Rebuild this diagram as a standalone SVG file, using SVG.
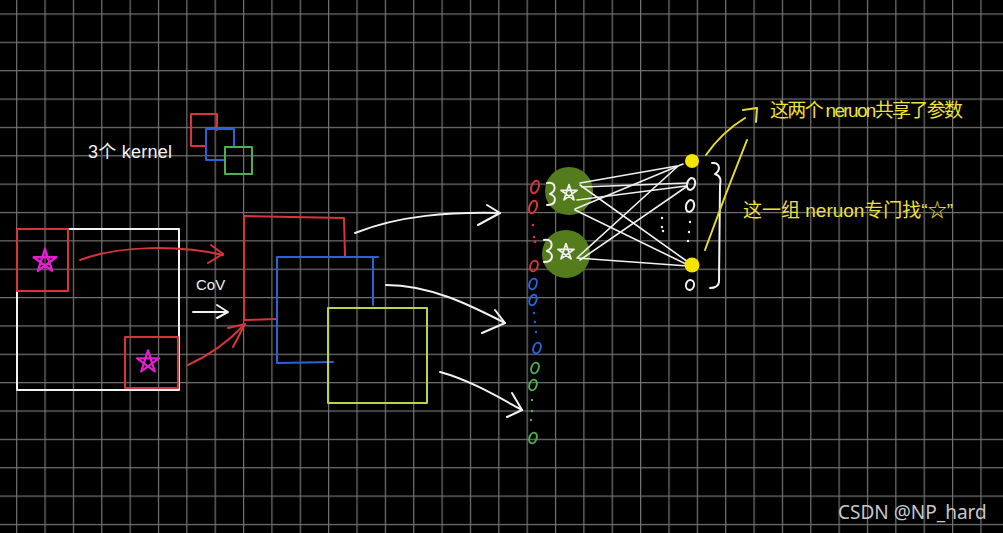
<svg xmlns="http://www.w3.org/2000/svg" xmlns:xlink="http://www.w3.org/1999/xlink" width="1003" height="533" viewBox="0 0 1003 533">
<style>
.hand{fill:none;stroke-linecap:round;stroke-linejoin:round;stroke-width:2}
.w{stroke:#f2f2f2}
.r{stroke:#d8343a}
.b{stroke:#2a62dc}
.g{stroke:#4caf50}
.yg{stroke:#b8d646}
.y{stroke:#e6dc2e}
.m{stroke:#e020cc}
.link{stroke:#f0f0f0;stroke-width:1.6;fill:none;stroke-linecap:round}
.dot{stroke:none}
.txt{font-family:"Liberation Sans","Noto Sans CJK SC",sans-serif}
.ytxt{font-family:"Liberation Sans","Noto Sans CJK SC",sans-serif;fill:#eee236;font-size:19px}
</style>
<defs>
<pattern id="grid" x="16.1" y="13.4" width="28.36" height="28.36" patternUnits="userSpaceOnUse">
<rect x="0" y="0" width="1.2" height="28.36" fill="#747474"/>
<rect x="0" y="0" width="28.36" height="1.2" fill="#747474"/>
</pattern>
<path id="star" d="M0,-10 L5.9,8.1 L-9.5,-3.1 L9.5,-3.1 L-5.9,8.1 Z"/>
<path id="brace" d="M-4,-11 C5,-13 6,-3 -1,0 C6,2 6,11 -4,11"/>
</defs>
<rect width="1003" height="533" fill="#000"/>
<rect width="1003" height="533" fill="url(#grid)"/>

<g id="kernels">
<text class="txt" x="88" y="158" font-size="18" fill="#f2f2f2" textLength="84">3个 kernel</text>
<path class="hand r" d="M217,130 L217,114 L191,114 L191,146 L206,146"/>
<path class="hand b" d="M234,147 L234,129 L206,129 L206,160 L225,160"/>
<rect class="hand g" x="225" y="147" width="27" height="27"/>
</g>

<g id="input-image">
<rect class="hand w" x="17" y="229" width="162" height="161"/>
<rect class="hand r" x="17" y="229" width="51" height="62"/>
<rect class="hand r" x="125" y="337" width="53" height="51"/>
<use xlink:href="#star" class="hand m" transform="translate(45,261) scale(1.2)"/>
<use xlink:href="#star" class="hand m" transform="translate(148,362) scale(1.15)"/>
</g>

<g id="label-cov">
<text class="txt" x="196" y="290" font-size="15" fill="#f2f2f2">CoV</text>
</g>

<g id="feature-maps">
<path class="hand r" d="M345,257 L344,218 L244,216 L244,320 L277,319"/>
<path class="hand b" d="M373,305 L373,257 L277,257 L277,363 L333,362"/>
<path class="hand b" d="M373,257 L378,257"/>
<rect class="hand yg" x="328" y="308" width="99" height="95"/>
</g>

<g id="connectors">
<path class="hand r" d="M80,260 C120,245 180,245 223,255"/>
<path class="hand r" d="M211,245 L223,254 L208,263"/>
<path class="hand r" d="M188,365 C210,355 230,340 245,324"/>
<path class="hand r" d="M228,328 L245,324 L233,347"/>
<path class="hand w" d="M193,312 H227"/>
<path class="hand w" d="M217,305 L228,312 L217,318"/>
<path class="hand w" d="M355,233 C400,215 450,212 500,213"/>
<path class="hand w" d="M487,205 L500,213 L478,225"/>
<path class="hand w" d="M386,285 C430,285 470,305 505,323"/>
<path class="hand w" d="M495,310 L505,323 L482,333"/>
<path class="hand w" d="M440,372 C470,380 500,398 522,410"/>
<path class="hand w" d="M512,393 L522,410 L507,417"/>
</g>

<g id="flat-column">
<ellipse class="hand r" cx="535" cy="187" rx="3.6" ry="6.5" transform="rotate(20 535 187)"/>
<ellipse class="hand r" cx="533" cy="207" rx="3.6" ry="6.5" transform="rotate(20 533 207)"/>
<circle class="dot" cx="533" cy="225" r="1.3" fill="#d8343a"/>
<circle class="dot" cx="534" cy="237" r="1.3" fill="#d8343a"/>
<circle class="dot" cx="535" cy="242" r="1.3" fill="#d8343a"/>
<ellipse class="hand r" cx="534" cy="266" rx="3.6" ry="5.5" transform="rotate(20 534 266)"/>
<ellipse class="hand b" cx="533" cy="284" rx="3.6" ry="5.5" transform="rotate(20 533 284)"/>
<ellipse class="hand b" cx="533" cy="300" rx="3.4" ry="5.5" transform="rotate(20 533 300)"/>
<circle class="dot" cx="534" cy="313" r="1.2" fill="#2a62dc"/>
<circle class="dot" cx="535" cy="322" r="1.2" fill="#2a62dc"/>
<circle class="dot" cx="536" cy="332" r="1.2" fill="#2a62dc"/>
<ellipse class="hand b" cx="537" cy="348" rx="3.6" ry="5.5" transform="rotate(20 537 348)"/>
<ellipse class="hand g" cx="535" cy="368" rx="3.6" ry="5.5" transform="rotate(20 535 368)"/>
<ellipse class="hand g" cx="533" cy="385" rx="3.6" ry="5.5" transform="rotate(20 533 385)"/>
<circle class="dot" cx="532" cy="400" r="1.2" fill="#4caf50"/>
<circle class="dot" cx="532" cy="411" r="1.2" fill="#4caf50"/>
<circle class="dot" cx="531" cy="420" r="1.2" fill="#4caf50"/>
<ellipse class="hand g" cx="533" cy="438" rx="3.6" ry="5.5" transform="rotate(20 533 438)"/>
</g>

<g id="shared-neurons">
<circle cx="569" cy="191" r="24" fill="#557c1c"/>
<circle cx="566" cy="254" r="24" fill="#557c1c"/>
<use xlink:href="#brace" class="hand w" transform="translate(551,194)"/>
<use xlink:href="#brace" class="hand w" transform="translate(548,251)"/>
<use xlink:href="#star" class="hand w" stroke-width="1.6" transform="translate(569,193) scale(0.85)"/>
<use xlink:href="#star" class="hand w" stroke-width="1.6" transform="translate(566,252) scale(0.85)"/>
</g>

<g id="neuron-links">
<path class="link" d="M580,183 L677,166"/>
<path class="link" d="M582,187 L688,183"/>
<path class="link" d="M577,200 L686,186"/>
<path class="link" d="M575,209 L683,164"/>
<path class="link" d="M580,185 L688,262"/>
<path class="link" d="M575,210 L688,265"/>
<path class="link" d="M578,257 L677,167"/>
<path class="link" d="M580,260 L686,187"/>
<path class="link" d="M577,258 L688,266"/>
</g>

<g id="output-layer">
<circle cx="692" cy="161" r="7" fill="#f5e400"/>
<ellipse class="hand w" cx="691" cy="184" rx="4" ry="6" transform="rotate(15 691 184)"/>
<ellipse class="hand w" cx="690" cy="206" rx="4" ry="6" transform="rotate(15 690 206)"/>
<circle class="dot" cx="690" cy="222" r="1.2" fill="#f2f2f2"/>
<circle class="dot" cx="689" cy="232" r="1.2" fill="#f2f2f2"/>
<circle class="dot" cx="688" cy="241" r="1.2" fill="#f2f2f2"/>
<circle class="dot" cx="662" cy="218" r="1.2" fill="#f2f2f2"/>
<circle class="dot" cx="662" cy="227" r="1.2" fill="#f2f2f2"/>
<circle class="dot" cx="663" cy="231" r="1.2" fill="#f2f2f2"/>
<circle cx="692" cy="265" r="7.5" fill="#f5e400"/>
<ellipse class="hand w" cx="690" cy="285" rx="4" ry="5" transform="rotate(15 690 285)"/>
<path class="hand w" stroke-width="1.6" d="M712,163 C720,162 721,170 715,174 C721,176 721,180 720,185 L719,282 Q718,288 710,288"/>
</g>

<g id="annotations">
<path class="hand y" d="M706,155 Q722,132 745,118"/>
<path class="hand y" d="M743,110 L757,108 L756,122"/>
<path class="hand y" d="M705,250 Q725,195 747,140"/>
<text class="ytxt" x="770" y="117" textLength="193">这两个 neruon共享了参数</text>
<text class="ytxt" x="743" y="217" textLength="210">这一组 neruon专门找“☆”</text>
</g>

<g id="watermark">
<text x="838" y="519" font-family="'Noto Sans',sans-serif" font-size="19" fill="#c8c8c8">CSDN @NP_hard</text>
</g>
</svg>
